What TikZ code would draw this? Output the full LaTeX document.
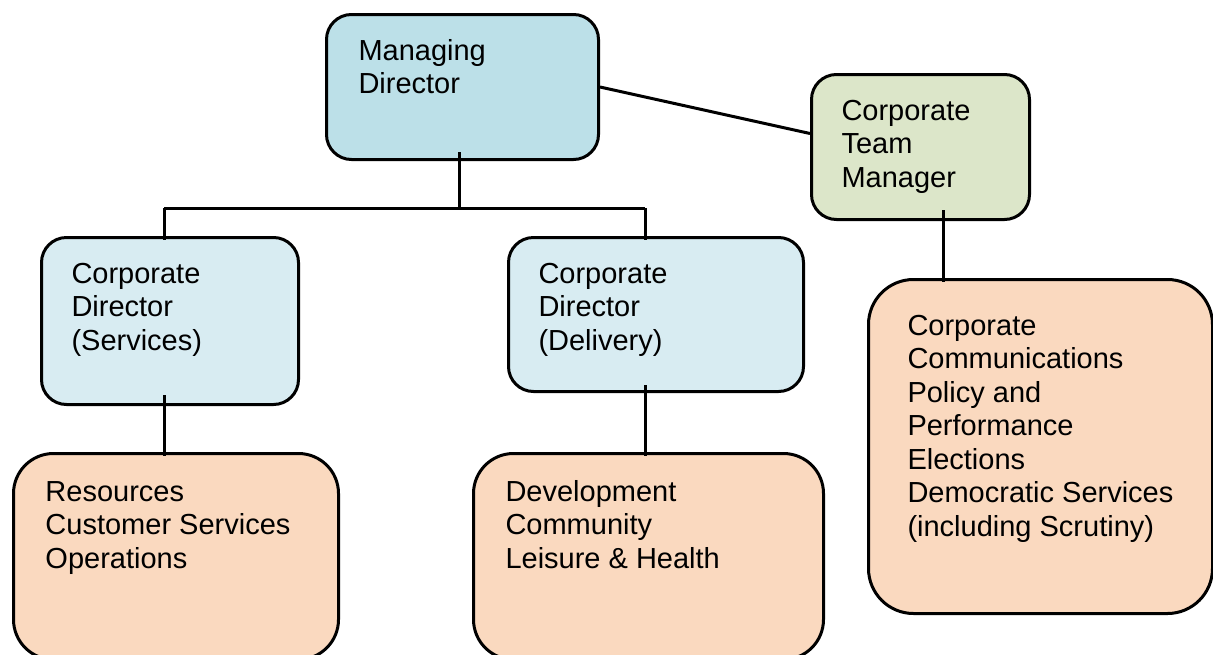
\documentclass[tikz,border=0pt]{standalone}
\usepackage{fontspec}
\setmainfont{Liberation Sans}
\definecolor{mdblue}{HTML}{BCE0E8}
\definecolor{cdblue}{HTML}{D8ECF2}
\definecolor{ctmgreen}{HTML}{DCE6C9}
\definecolor{peach}{HTML}{FAD9BF}
\newcommand\boxtext[5]{\parbox[c][#2pt][t]{#1pt}{\vspace*{#3pt}\leftskip=#4pt\relax\strut#5\par}}
\tikzset{
  orgbox/.style={draw=black, line width=3pt, rounded corners=25pt, inner sep=0pt,
    anchor=north west, font=\fontsize{29}{33.5}\selectfont},
  conn/.style={draw=black, line width=3pt}
}
\begin{document}
\begin{tikzpicture}[x=1pt,y=-1pt]
\useasboundingbox (0,0) rectangle (1213,654);
\clip (0,0) rectangle (1213,654);
% boxes
\node[orgbox, fill=mdblue] (md) at (325,13) {\boxtext{272}{145}{22.5}{32}{Managing\\Director}};
\node[orgbox, fill=ctmgreen] (ctm) at (810,73) {\boxtext{218}{145}{22.5}{30}{Corporate\\Team\\Manager}};
\node[orgbox, fill=cdblue] (cds) at (40,236) {\boxtext{257}{167}{22.5}{30}{Corporate\\Director\\(Services)}};
\node[orgbox, fill=cdblue] (cdd) at (507,236) {\boxtext{295}{154}{22.5}{30}{Corporate\\Director\\(Delivery)}};
\node[orgbox, fill=peach, rounded corners=40pt] (res) at (12,452) {\boxtext{325}{206}{24.5}{32}{Resources\\Customer Services\\Operations}};
\node[orgbox, fill=peach, rounded corners=40pt] (dev) at (472,452) {\boxtext{350}{206}{24.5}{32}{Development\\Community\\Leisure \& Health}};
\node[orgbox, fill=peach, rounded corners=45pt] (ccc) at (867,278) {\boxtext{344}{334}{32.5}{39}{Corporate\\Communications\\Policy and\\Performance\\Elections\\Democratic Services\\(including Scrutiny)}};
% connector coordinates
\coordinate (mdb) at (459,152);
\coordinate (busl) at (164,208);
\coordinate (busm) at (459,208);
\coordinate (busr) at (645,208);
\coordinate (cdsb) at (164,395);
\coordinate (cddb) at (645,385);
\coordinate (ctmb) at (943,210);
% connectors
\draw[conn] (mdb) -- (busm);
\draw[conn] (busl) -- (busr);
\draw[conn] (busl) -- ([yshift=-4pt]busl |- cds.north);
\draw[conn] (busr) -- ([yshift=-4pt]busr |- cdd.north);
\draw[conn] (md.east) -- ([yshift=13.5pt]ctm.west);
\draw[conn] (ctmb) -- ([yshift=-4pt]ctmb |- ccc.north);
\draw[conn] (cdsb) -- ([yshift=-4pt]cdsb |- res.north);
\draw[conn] (cddb) -- ([yshift=-4pt]cddb |- dev.north);
\end{tikzpicture}
\end{document}
